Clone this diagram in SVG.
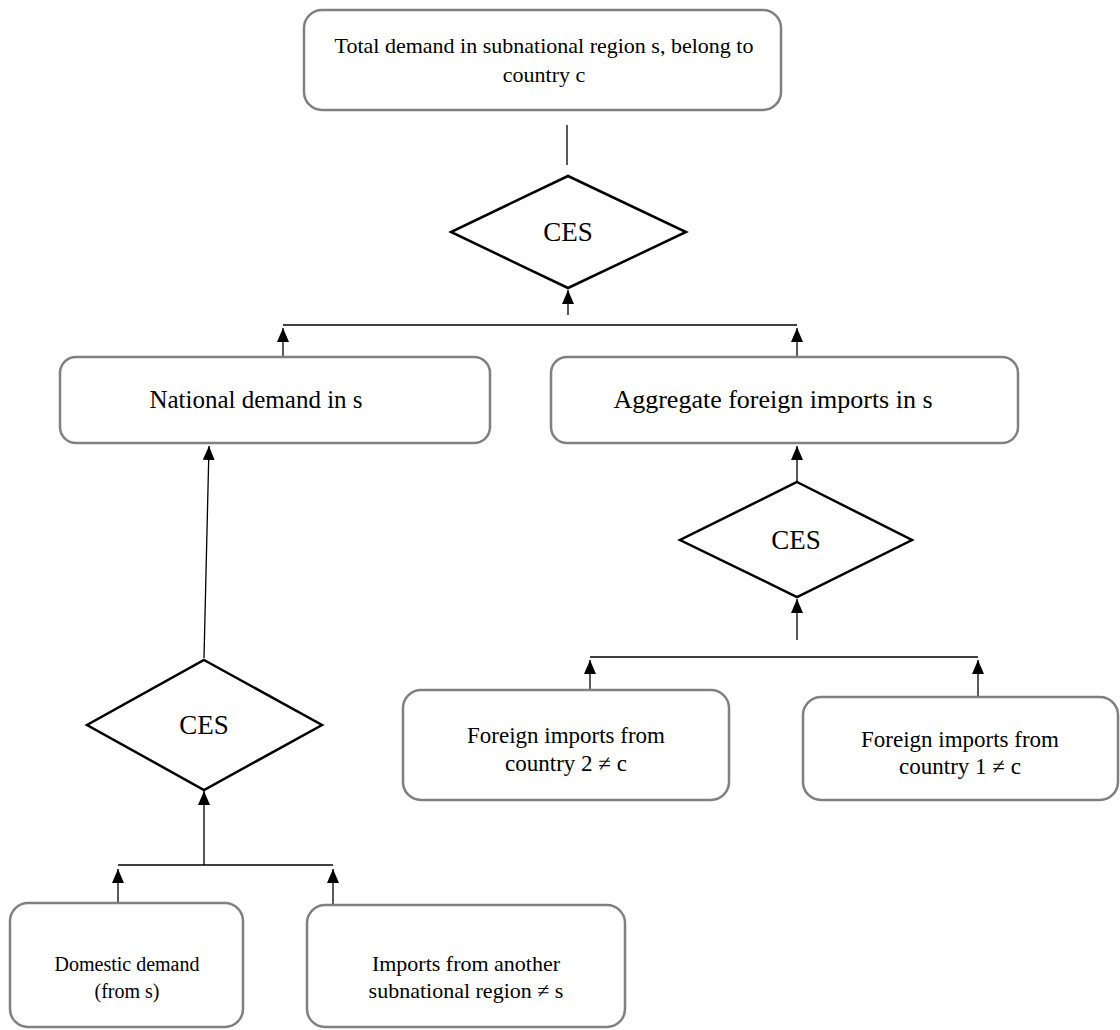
<svg xmlns="http://www.w3.org/2000/svg" width="1120" height="1030" viewBox="0 0 1120 1030">
<style>
.box{fill:#fff;stroke:#808080;stroke-width:2.5}
.dia{fill:#fff;stroke:#000;stroke-width:2.5}
.ln{fill:none;stroke:#000;stroke-width:1.3}
.t{font-family:"Liberation Serif","Times New Roman",serif;fill:#000;text-anchor:middle}
.ces{font-size:27px}
</style>
<defs>
<marker id="ah" viewBox="0 0 14 12" markerWidth="14" markerHeight="12" refX="14" refY="6" orient="auto" markerUnits="userSpaceOnUse">
<path d="M0,0 L14,6 L0,12 z" fill="#000"/>
</marker>
</defs>
<g id="connectors">
<path class="ln" d="M567,125 V165"/>
<path class="ln" d="M568,315 V290" marker-end="url(#ah)"/>
<path class="ln" d="M283,325 H797"/>
<path class="ln" d="M283,357 V328" marker-end="url(#ah)"/>
<path class="ln" d="M797,357 V328" marker-end="url(#ah)"/>
<path class="ln" d="M204,658 L209,446" marker-end="url(#ah)"/>
<path class="ln" d="M797,482 V446" marker-end="url(#ah)"/>
<path class="ln" d="M797,640 V599" marker-end="url(#ah)"/>
<path class="ln" d="M590,657 H978"/>
<path class="ln" d="M590,690 V660" marker-end="url(#ah)"/>
<path class="ln" d="M978,697 V660" marker-end="url(#ah)"/>
<path class="ln" d="M204,865 V791" marker-end="url(#ah)"/>
<path class="ln" d="M118,865 H333"/>
<path class="ln" d="M118,902 V869" marker-end="url(#ah)"/>
<path class="ln" d="M333,905 V869" marker-end="url(#ah)"/>
</g>
<g id="total">
<rect class="box" x="304" y="10" width="477" height="100" rx="18"/>
<text class="t" x="544" y="53" font-size="22">Total demand in subnational region s, belong to</text>
<text class="t" x="544" y="82" font-size="22">country c</text>
</g>
<g id="ces1">
<polygon class="dia" points="568,176 686,232 568,288 451,232"/>
<text class="t ces" x="568" y="241">CES</text>
</g>
<g id="national">
<rect class="box" x="60" y="357" width="430" height="86" rx="16"/>
<text class="t" x="256" y="408" font-size="25">National demand in s</text>
</g>
<g id="aggregate">
<rect class="box" x="551" y="357" width="467" height="86" rx="16"/>
<text class="t" x="773" y="408" font-size="26">Aggregate foreign imports in s</text>
</g>
<g id="ces3">
<polygon class="dia" points="797,482 912,540 797,597 680,540"/>
<text class="t ces" x="796" y="549">CES</text>
</g>
<g id="ces2">
<polygon class="dia" points="204,660 322,725 204,790 87,725"/>
<text class="t ces" x="204" y="734">CES</text>
</g>
<g id="foreign2">
<rect class="box" x="403" y="690" width="326" height="110" rx="18"/>
<text class="t" x="566" y="743" font-size="23">Foreign imports from</text>
<text class="t" x="566" y="771" font-size="23">country 2 ≠ c</text>
</g>
<g id="foreign1">
<rect class="box" x="803" y="697" width="315" height="103" rx="18"/>
<text class="t" x="960" y="747" font-size="23">Foreign imports from</text>
<text class="t" x="960" y="774" font-size="23">country 1 ≠ c</text>
</g>
<g id="domestic">
<rect class="box" x="10" y="903" width="233" height="124" rx="18"/>
<text class="t" x="127" y="971" font-size="20">Domestic demand</text>
<text class="t" x="127" y="998" font-size="20">(from s)</text>
</g>
<g id="imports">
<rect class="box" x="307" y="905" width="318" height="122" rx="18"/>
<text class="t" x="466" y="971" font-size="22">Imports from another</text>
<text class="t" x="466" y="998" font-size="22">subnational region ≠ s</text>
</g>
</svg>
